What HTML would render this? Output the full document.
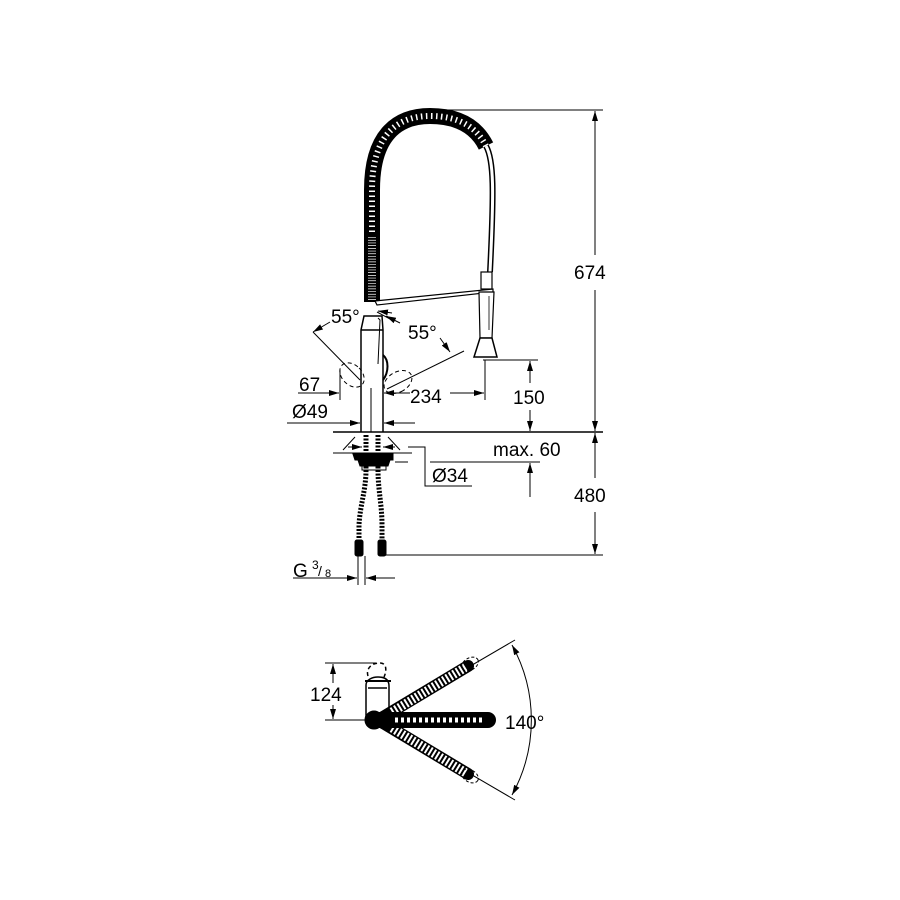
<!DOCTYPE html>
<html><head><style>html,body{margin:0;padding:0;background:#fff}svg{display:block}text{font-family:"Liberation Sans",sans-serif;fill:#000}</style></head>
<body>
<svg width="900" height="900" viewBox="0 0 900 900" xmlns="http://www.w3.org/2000/svg">
<defs>
<marker id="a" viewBox="0 0 10 6" refX="10" refY="3" markerWidth="10" markerHeight="6" orient="auto-start-reverse" markerUnits="userSpaceOnUse"><path d="M0,0L10,3L0,6z" fill="#000"/></marker>
</defs>
<g stroke="#000" fill="none" stroke-width="1">
<!-- coil -->
<path d="M372,302 L372,190 C372,132 400,116 430,116 C460,116 477,128 486,146" stroke-width="16"/>
<path d="M372,232 L372,190 C372,132 400,116 430,116 C460,116 477,128 486,146" stroke="#fff" stroke-width="6" stroke-dasharray="1.5 3.5"/>
<path d="M372,300 L372,236" stroke="#fff" stroke-width="8" stroke-dasharray="0.7 2"/>
<!-- tube -->
<path d="M486,146 C494,160 494,190 490,272" stroke-width="6"/>
<path d="M486,146 C494,160 494,190 490,272" stroke="#fff" stroke-width="3"/>
<!-- spout bar -->
<path d="M375,301 L493,289 L493,292 L377,305 Z" fill="#fff" stroke-width="1.2"/>
<!-- spray handle -->
<rect x="481" y="272" width="11" height="17" fill="#fff" stroke-width="1.2"/>
<path d="M479,292 L494,292 L492,338 L480,338 Z" fill="#fff" stroke-width="1.2"/>
<path d="M489,296 L489,330" stroke-width="0.8"/>
<path d="M480,338 L492,338 L497,357 L474,357 Z" fill="#fff" stroke-width="1.5"/>
<!-- body -->
<path d="M361,432 L361,330 L364,316 L382,316 L383,330 L383,432" fill="#fff" stroke-width="1.5"/>
<path d="M361,330 L383,330" stroke-width="1.5"/>
<path d="M378,318 L380,320 L378,364" stroke-width="1"/>
<path d="M383,355 C389,360 389,372 383,380" stroke-width="2"/>
<path d="M371,388 L371,432"/>
<!-- 55 deg marks -->
<path d="M377,312 L392,320"/>
<path d="M392,313 L378,311" marker-end="url(#a)"/>
<path d="M400,323 L386,316" marker-end="url(#a)"/>
<path d="M313,332 L360,380"/>
<path d="M330,322 L313,332" marker-end="url(#a)"/>
<path d="M387,389 L464,351"/>
<path d="M440,338 L450,352" marker-end="url(#a)"/>
<!-- dashed handle circles -->
<ellipse cx="352" cy="375" rx="10" ry="14" transform="rotate(-45 352 375)" stroke-dasharray="4 3"/>
<ellipse cx="398" cy="382" rx="10" ry="15" transform="rotate(60 398 382)" stroke-dasharray="4 3"/>
<!-- 67 -->
<path d="M340,370 L340,400"/>
<path d="M298,393 L339,393" marker-end="url(#a)"/>
<path d="M410,393 L384,393" marker-end="url(#a)"/>
<path d="M450,393 L484,393" marker-end="url(#a)"/>
<path d="M485,360 L485,400"/>
<!-- 49 -->
<path d="M287,423 L360,423" marker-end="url(#a)"/>
<path d="M415,423 L384,423" marker-end="url(#a)"/>
<!-- 150 -->
<path d="M483,360 L538,360"/>
<path d="M530,383 L530,361" marker-end="url(#a)"/>
<path d="M530,410 L530,431" marker-end="url(#a)"/>
<!-- 674 / 480 -->
<path d="M440,110 L603,110"/>
<path d="M595,255 L595,111" marker-end="url(#a)"/>
<path d="M595,290 L595,431" marker-end="url(#a)"/>
<path d="M595,478 L595,433" marker-end="url(#a)"/>
<path d="M595,512 L595,554" marker-end="url(#a)"/>
<!-- deck -->
<path d="M333,432 L603,432" stroke-width="1.5"/>
<path d="M333,453 L412,453"/>
<path d="M343,450 L355,437 M400,450 L388,437"/>
<path d="M348,447 L362,447" marker-end="url(#a)"/>
<path d="M395,447 L383,447" marker-end="url(#a)"/>
<path d="M353,454 L393,454 L393,460 L355,460 Z" fill="#000"/>
<path d="M358,460 L390,460 L388,466 L360,466 Z" fill="#000"/>
<path d="M362,466 L386,466 L386,470 L362,470 Z" fill="#fff"/>
<!-- max60 / 34 -->
<path d="M430,462 L540,462"/>
<path d="M530,497 L530,463" marker-end="url(#a)"/>
<path d="M408,447 L425,447 L425,486 L472,486"/>
<path d="M395,462 L408,462"/>
<!-- hoses -->
<g stroke-width="5" stroke-dasharray="2 1.5">
<path d="M366,435 L366,470 C366,490 360,505 359,525 L359,540"/>
<path d="M378,435 L378,470 C378,490 382,505 382,525 L382,540"/>
</g>
<rect x="355" y="540" width="8" height="16" fill="#000" rx="2"/>
<rect x="378" y="540" width="8" height="16" fill="#000" rx="2"/>
<path d="M386,555 L603,555"/>
<path d="M358,556 L358,585 M365,556 L365,585"/>
<path d="M293,578 L357,578" marker-end="url(#a)"/>
<path d="M395,578 L366,578" marker-end="url(#a)"/>
<!-- top view -->
<path d="M325,663 L376,663 M325,720 L365,720"/>
<path d="M333,683 L333,664" marker-end="url(#a)"/>
<path d="M333,705 L333,719" marker-end="url(#a)"/>
<path d="M366,718 L366,685 C366,680 372,677 378,677 C385,677 389,680 389,686 L389,712" fill="#fff" stroke-width="1.5"/>
<path d="M368,688 L387,688" stroke-width="1.5"/>
<path d="M365,681 L391,681" stroke-width="2"/>
<path d="M368,676 C366,670 370,663 380,663 C388,663 386,673 384,677" stroke-dasharray="4 3" stroke-width="1.5"/>
<path d="M378,720 L515,640 M378,720 L515,800"/>
<path d="M512,645 A155,155 0 0 1 512,795" marker-start="url(#a)" marker-end="url(#a)"/>
<g stroke-width="12" stroke-linecap="round">
<path d="M378,720 L468,666" stroke="#000"/>
<path d="M378,720 L468,774" stroke="#000"/>
</g>
<g stroke-width="9" stroke="#fff" stroke-dasharray="2 2">
<path d="M392,712 L466,667"/>
<path d="M392,728 L466,773"/>
</g>
<path d="M378,720 L488,720" stroke-width="16" stroke-linecap="round"/>
<path d="M395,720 L482,720" stroke="#fff" stroke-width="5" stroke-dasharray="3 3"/>
<circle cx="374" cy="720" r="9" fill="#000"/>
<ellipse cx="470" cy="664" rx="9" ry="6" transform="rotate(-30 470 664)" stroke-dasharray="3 2"/>
<ellipse cx="470" cy="776" rx="9" ry="6" transform="rotate(30 470 776)" stroke-dasharray="3 2"/>
</g>
<g font-size="19">
<text x="331" y="323">55°</text>
<text x="408" y="339">55°</text>
<text x="299" y="391">67</text>
<text x="292" y="418">Ø49</text>
<text x="410" y="403">234</text>
<text x="513" y="404">150</text>
<text x="574" y="279">674</text>
<text x="493" y="456">max. 60</text>
<text x="432" y="482">Ø34</text>
<text x="574" y="502">480</text>
<text x="293" y="577">G</text>
<text x="312" y="569" font-size="12">3</text>
<text x="318" y="576" font-size="14">/</text>
<text x="325" y="577" font-size="11">8</text>
<text x="310" y="701">124</text>
<text x="505" y="729">140°</text>
</g>
</svg>
</body></html>
